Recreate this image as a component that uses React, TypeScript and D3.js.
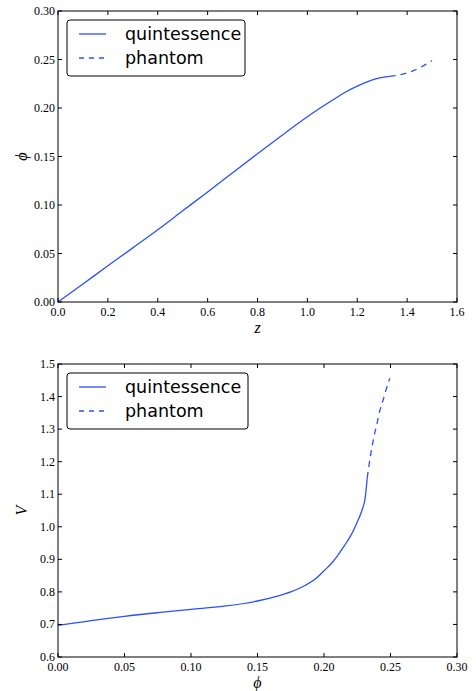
import React from "react";
import * as d3 from "d3";

const zQuint = [0, 0.1, 0.2, 0.3, 0.4, 0.5, 0.6, 0.7, 0.8, 0.9, 1.0, 1.05, 1.1, 1.15, 1.2, 1.25, 1.29, 1.33];
const phiQuint = [0, 0.0186, 0.0373, 0.0558, 0.0745, 0.094, 0.1135, 0.1332, 0.1528, 0.1722, 0.191, 0.1997, 0.208, 0.216, 0.2225, 0.228, 0.231, 0.2327];
const zPhantom = [1.33, 1.37, 1.4, 1.43, 1.46, 1.5];
const phiPhantom = [0.2327, 0.2342, 0.2362, 0.239, 0.2428, 0.2488];

const phiQ2 = [0, 0.025, 0.05, 0.075, 0.1, 0.125, 0.15, 0.165, 0.175, 0.185, 0.195, 0.2, 0.205, 0.21, 0.215, 0.22, 0.225, 0.2285, 0.231, 0.2325];
const vQuint = [0.697, 0.712, 0.725, 0.736, 0.746, 0.756, 0.772, 0.787, 0.8, 0.818, 0.845, 0.865, 0.885, 0.91, 0.94, 0.972, 1.015, 1.05, 1.09, 1.15];
const phiP2 = [0.2325, 0.235, 0.2376, 0.24, 0.2421, 0.2445, 0.2466, 0.2485, 0.2496];
const vPhantom = [1.15, 1.22, 1.277, 1.32, 1.359, 1.39, 1.42, 1.445, 1.456];

const zTicks = [0, 0.2, 0.4, 0.6, 0.8, 1.0, 1.2, 1.4, 1.6];
const phiTicksTop = [0, 0.05, 0.1, 0.15, 0.2, 0.25, 0.3];
const phiTicksBottom = [0, 0.05, 0.1, 0.15, 0.2, 0.25, 0.3];
const vTicks = [0.6, 0.7, 0.8, 0.9, 1.0, 1.1, 1.2, 1.3, 1.4, 1.5];
const legendLabels = ["quintessence", "phantom"];

const COLOR = "#2a50ff";
const SERIF = "'Liberation Serif', 'Times New Roman', serif";
const SANS = "'DejaVu Sans', sans-serif";

type PanelProps = {
  top: number;
  bottom: number;
  xDomain: [number, number];
  yDomain: [number, number];
  xTicks: number[];
  yTicks: number[];
  xFmt: (v: number) => string;
  yFmt: (v: number) => string;
  solid: [number, number][];
  dashed: [number, number][];
  xLabel: string;
  yLabel: string;
  legendBox: { x: number; y: number; w: number; h: number };
};

function Panel(p: PanelProps) {
  const left = 58;
  const right = 457;
  const x = d3.scaleLinear().domain(p.xDomain).range([left, right]);
  const y = d3.scaleLinear().domain(p.yDomain).range([p.bottom, p.top]);
  const line = d3
    .line<[number, number]>()
    .x((d) => x(d[0]))
    .y((d) => y(d[1]))
    .curve(d3.curveMonotoneX);
  const tl = 4;
  const lb = p.legendBox;
  const row1 = lb.y + 14;
  const row2 = lb.y + 38;
  return (
    <g>
      <path d={line(p.solid) || ""} fill="none" stroke={COLOR} strokeWidth={1.3} />
      <path d={line(p.dashed) || ""} fill="none" stroke={COLOR} strokeWidth={1.3} strokeDasharray="6,5" />
      {p.xTicks.map((t, i) => (
        <g key={"x" + i}>
          <line x1={x(t)} x2={x(t)} y1={p.bottom} y2={p.bottom - tl} stroke="#000" />
          <line x1={x(t)} x2={x(t)} y1={p.top} y2={p.top + tl} stroke="#000" />
          <text x={x(t)} y={p.bottom + 14} textAnchor="middle" fontFamily={SERIF} fontSize={12}>
            {p.xFmt(t)}
          </text>
        </g>
      ))}
      {p.yTicks.map((t, i) => (
        <g key={"y" + i}>
          <line x1={left} x2={left + tl} y1={y(t)} y2={y(t)} stroke="#000" />
          <line x1={right} x2={right - tl} y1={y(t)} y2={y(t)} stroke="#000" />
          <text x={55} y={y(t) + 4} textAnchor="end" fontFamily={SERIF} fontSize={12}>
            {p.yFmt(t)}
          </text>
        </g>
      ))}
      <rect x={left} y={p.top} width={right - left} height={p.bottom - p.top} fill="none" stroke="#000" strokeWidth={1} />
      <text x={(left + right) / 2} y={p.bottom + 31} textAnchor="middle" fontFamily={SERIF} fontStyle="italic" fontSize={16}>
        {p.xLabel}
      </text>
      <text
        transform={`translate(27,${(p.top + p.bottom) / 2}) rotate(-90)`}
        textAnchor="middle"
        fontFamily={SERIF}
        fontStyle="italic"
        fontSize={16}
      >
        {p.yLabel}
      </text>
      <rect x={lb.x} y={lb.y} width={lb.w} height={lb.h} rx={3} fill="#fff" stroke="#000" strokeWidth={1} />
      <line x1={lb.x + 12} x2={lb.x + 39} y1={row1} y2={row1} stroke={COLOR} strokeWidth={1.3} />
      <line x1={lb.x + 12} x2={lb.x + 39} y1={row2} y2={row2} stroke={COLOR} strokeWidth={1.3} strokeDasharray="5,5" />
      <text x={lb.x + 58} y={row1 + 6} fontFamily={SANS} fontSize={17.5}>
        {legendLabels[0]}
      </text>
      <text x={lb.x + 58} y={row2 + 6} fontFamily={SANS} fontSize={17.5}>
        {legendLabels[1]}
      </text>
    </g>
  );
}

export default function App() {
  const topSolid = zQuint.map((z, i) => [z, phiQuint[i]] as [number, number]);
  const topDashed = zPhantom.map((z, i) => [z, phiPhantom[i]] as [number, number]);
  const botSolid = phiQ2.map((f, i) => [f, vQuint[i]] as [number, number]);
  const botDashed = phiP2.map((f, i) => [f, vPhantom[i]] as [number, number]);
  return (
    <svg width={476} height={691} style={{ position: "absolute", left: 0, top: 0, background: "#fff" }}>
      <rect width={476} height={691} fill="#fff" />
      <Panel
        top={11}
        bottom={302}
        xDomain={[0, 1.6]}
        yDomain={[0, 0.3]}
        xTicks={zTicks}
        yTicks={phiTicksTop}
        xFmt={(v) => v.toFixed(1)}
        yFmt={(v) => v.toFixed(2)}
        solid={topSolid}
        dashed={topDashed}
        xLabel="z"
        yLabel="ϕ"
        legendBox={{ x: 67, y: 20, w: 178, h: 56 }}
      />
      <Panel
        top={364}
        bottom={657}
        xDomain={[0, 0.3]}
        yDomain={[0.6, 1.5]}
        xTicks={phiTicksBottom}
        yTicks={vTicks}
        xFmt={(v) => v.toFixed(2)}
        yFmt={(v) => v.toFixed(1)}
        solid={botSolid}
        dashed={botDashed}
        xLabel="ϕ"
        yLabel="V"
        legendBox={{ x: 67, y: 373, w: 181, h: 56 }}
      />
    </svg>
  );
}
